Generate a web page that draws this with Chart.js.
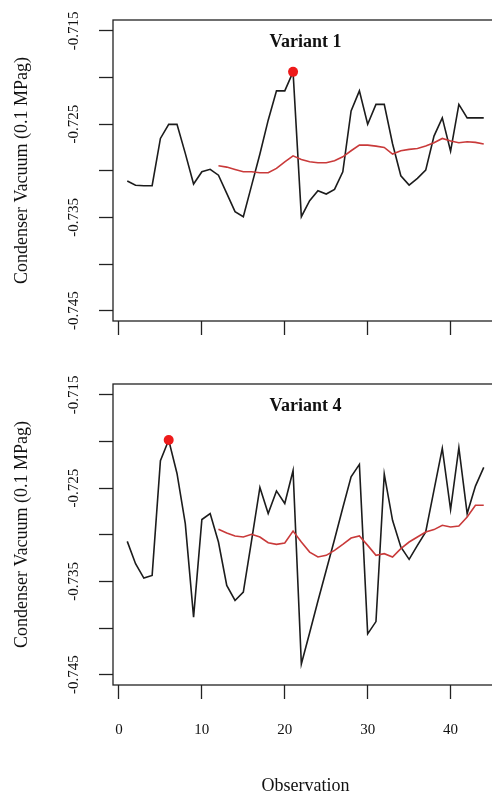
<!DOCTYPE html>
<html>
<head>
<meta charset="utf-8">
<script src="https://cdn.jsdelivr.net/npm/chart.js@4/dist/chart.umd.min.js"></script>
<style>
html, body { margin: 0; padding: 0; overflow: hidden; background: #fff; width: 492px; height: 794px; }
canvas { position: absolute; left: 0; }
#chart1 { top: 0; }
#chart4 { top: 340px; }
</style>
</head>
<body>
<canvas id="chart1" width="510" height="340"></canvas>
<canvas id="chart4" width="510" height="460"></canvas>
<script>
// observation numbers 1..44
const observations = [1,2,3,4,5,6,7,8,9,10,11,12,13,14,15,16,17,18,19,20,21,22,
  23,24,25,26,27,28,29,30,31,32,33,34,35,36,37,38,39,40,41,42,43,44];
// moving average starts at observation 12
const smoothStart = 12;

const variant1 = [-0.7311,-0.73155,-0.7316,-0.7316,-0.72653,-0.72502,-0.72502,-0.72813,-0.73142,-0.7301,
  -0.72984,-0.73047,-0.73242,-0.73438,-0.73492,-0.73156,-0.7282,-0.72457,-0.72143,-0.72143,
  -0.71939,-0.73492,-0.7332,-0.73213,-0.73249,-0.73199,-0.7301,-0.72357,-0.72143,-0.725,
  -0.72288,-0.72288,-0.7271,-0.73053,-0.73153,-0.73081,-0.72992,-0.72628,-0.72432,-0.72789,
  -0.72288,-0.72432,-0.72432,-0.72432];
const variant1Avg = [-0.72946,-0.7296,-0.72985,-0.7301,-0.7301,-0.7302,-0.7302,-0.72974,-0.72903,-0.72839,
  -0.72878,-0.72903,-0.72914,-0.72914,-0.72892,-0.7285,-0.72785,-0.72724,-0.72724,-0.72735,
  -0.72749,-0.7282,-0.72785,-0.7277,-0.7276,-0.72735,-0.72699,-0.72653,-0.72681,-0.72699,
  -0.72689,-0.72695,-0.72713];

const variant4 = [-0.7307,-0.7331,-0.73464,-0.73435,-0.72206,-0.71984,-0.72342,-0.7288,-0.73883,-0.72836,
  -0.72772,-0.73077,-0.73543,-0.73704,-0.73614,-0.73059,-0.72492,-0.72772,-0.72529,-0.72664,
  -0.7231,-0.74384,-0.7405,-0.7371,-0.7338,-0.7305,-0.7271,-0.72378,-0.72245,-0.74062,
  -0.7393,-0.72349,-0.72844,-0.7313,-0.73263,-0.73113,-0.7297,-0.72521,-0.72073,-0.72729,
  -0.72066,-0.72772,-0.72478,-0.72277];
const variant4Avg = [-0.7294,-0.7298,-0.73012,-0.73023,-0.72994,-0.73023,-0.73084,-0.73102,-0.73088,-0.72959,
  -0.73077,-0.73185,-0.73238,-0.7322,-0.73166,-0.73102,-0.73034,-0.73012,-0.73113,-0.7322,
  -0.73202,-0.73238,-0.73148,-0.73077,-0.73023,-0.7297,-0.72944,-0.72898,-0.72916,-0.72905,
  -0.72808,-0.72683,-0.72683];

const xTicks = [0, 10, 20, 30, 40];
const yTicks = [-0.745, -0.74, -0.735, -0.73, -0.725, -0.72, -0.715];
const yLabelled = ['-0.745', '-0.735', '-0.725', '-0.715'];

Chart.defaults.font.family = "'Liberation Serif', 'Times New Roman', serif";
Chart.defaults.color = '#111';

// box round the plot area + panel title inside it
const framePlugin = {
  id: 'frame',
  afterDraw(chart, args, opts) {
    const ctx = chart.ctx, a = chart.chartArea;
    ctx.save();
    ctx.strokeStyle = '#222';
    ctx.lineWidth = 1.3;
    ctx.strokeRect(a.left, a.top, a.right - a.left, a.bottom - a.top);
    ctx.font = "bold 18px 'Liberation Serif', serif";
    ctx.fillStyle = '#111';
    ctx.textAlign = 'center';
    ctx.textBaseline = 'middle';
    ctx.fillText(opts.text, (a.left + a.right) / 2, a.top + 22);
    ctx.restore();
  }
};

function drawPanel(id, title, obs, avg, padTop, xHeight, showX) {
  let peak = 0;
  obs.forEach((v, i) => { if (v > obs[peak]) peak = i; });

  new Chart(document.getElementById(id), {
    type: 'line',
    data: {
      datasets: [{
        data: [{x: observations[peak], y: obs[peak]}],
        showLine: false,
        pointRadius: 5,
        pointBackgroundColor: '#ee1a1a',
        pointBorderWidth: 0
      }, {
        data: avg.map((v, i) => ({x: smoothStart + i, y: v})),
        borderColor: '#c93a3a',
        borderWidth: 1.6,
        pointRadius: 0,
        tension: 0
      }, {
        data: obs.map((v, i) => ({x: observations[i], y: v})),
        borderColor: '#1c1c1c',
        borderWidth: 1.6,
        pointRadius: 0,
        tension: 0
      }]
    },
    plugins: [framePlugin],
    options: {
      responsive: false,
      animation: false,
      layout: { padding: { top: padTop, right: 12, left: 0, bottom: 0 } },
      plugins: {
        legend: { display: false },
        tooltip: { enabled: false },
        frame: { text: title }
      },
      scales: {
        x: {
          type: 'linear',
          min: -0.72,
          max: 45.72,
          afterBuildTicks: s => { s.ticks = xTicks.map(v => ({value: v})); },
          afterFit: s => { s.height = xHeight; s.paddingLeft = 0; s.paddingRight = 0; },
          grid: { drawOnChartArea: false, drawTicks: true, tickLength: 14, color: '#222', tickWidth: 1.3 },
          border: { display: false },
          ticks: { display: showX, padding: 22, font: { size: 15 }, color: '#111', maxRotation: 0 },
          title: { display: showX, text: 'Observation', font: { size: 18 }, color: '#111', padding: { top: 0, bottom: 3 } }
        },
        y: {
          min: -0.7461,
          max: -0.71383,
          afterBuildTicks: s => { s.ticks = yTicks.map(v => ({value: v})); },
          afterFit: s => { s.width = 113; s.paddingTop = 0; s.paddingBottom = 0; },
          grid: { drawOnChartArea: false, drawTicks: true, tickLength: 14, color: '#222', tickWidth: 1.3 },
          border: { display: false },
          ticks: {
            autoSkip: false,
            minRotation: 90,
            maxRotation: 90,
            crossAlign: 'center',
            padding: 6,
            font: { size: 15 },
            color: '#111',
            callback: v => yLabelled.includes(v.toFixed(3)) ? v.toFixed(3) : ''
          },
          title: { display: true, text: 'Condenser Vacuum (0.1 MPag)', font: { size: 18 }, color: '#111', padding: { top: 11, bottom: 0 } }
        }
      }
    }
  });
}

drawPanel('chart1', 'Variant 1', variant1, variant1Avg, 20, 19, false);
drawPanel('chart4', 'Variant 4', variant4, variant4Avg, 44, 115, true);
</script>
</body>
</html>
